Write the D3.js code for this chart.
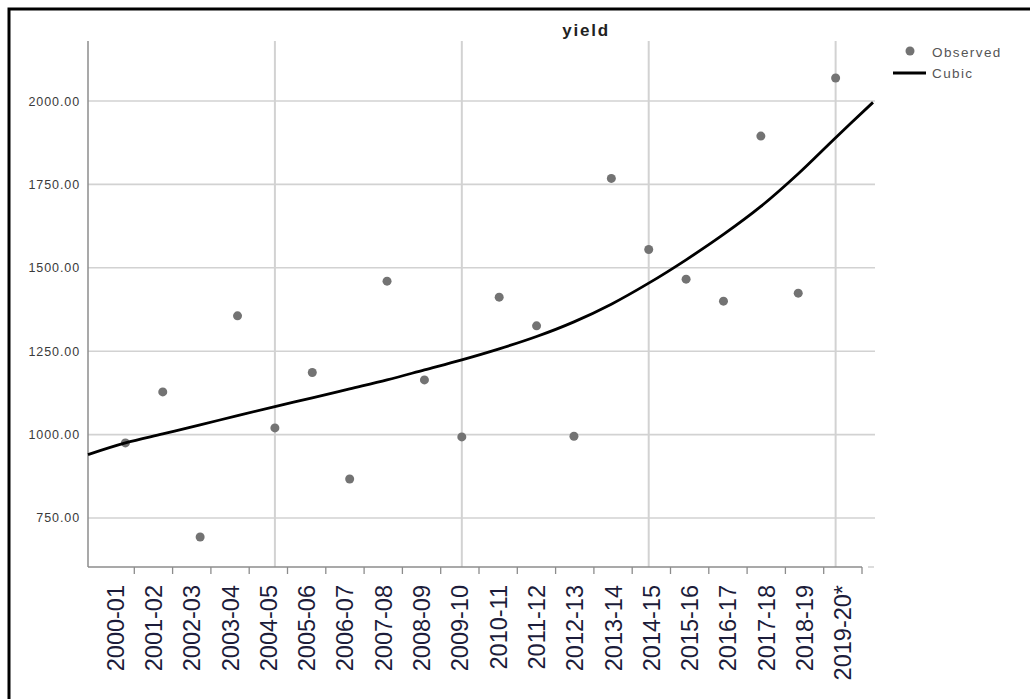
<!DOCTYPE html>
<html>
<head>
<meta charset="utf-8">
<title>yield</title>
<style>
  body { margin: 0; background: #fff; }
  svg { display: block; font-family: "Liberation Sans", Arial, sans-serif; }
  .grid line { stroke: #d2d2d2; }
  .yax text { fill: #3a3a3a; font-size: 12.5px; letter-spacing: 0.9px; }
  .xax text { fill: #1c1c3a; font-size: 23.5px; }
  .xax line { stroke: #8c8c8c; stroke-width: 1.3; }
</style>
</head>
<body>
<svg width="1030" height="699"></svg>
<script src="https://d3js.org/d3.v7.min.js"></script>
<script>

// season labels on the x axis
var seasons = ["2000-01", "2001-02", "2002-03", "2003-04", "2004-05", "2005-06",
  "2006-07", "2007-08", "2008-09", "2009-10", "2010-11", "2011-12", "2012-13",
  "2013-14", "2014-15", "2015-16", "2016-17", "2017-18", "2018-19", "2019-20*"];

// observed yield, sequence 1..20
var observed = [975, 1128, 693, 1356, 1020, 1186, 867, 1460, 1164, 993,
  1412, 1326, 995, 1768, 1555, 1466, 1400, 1895, 1424, 2069];

// cubic fit at sequence 0..21
var cubic = [940, 975, 1002, 1029, 1057, 1084, 1110, 1137, 1164, 1194, 1224,
  1257, 1294, 1338, 1391, 1454, 1524, 1600, 1684, 1782, 1890, 1996];

var yTicks = [750, 1000, 1250, 1500, 1750, 2000];
var xGrid = [5, 10, 15, 20];

var svg = d3.select("svg");

var pLeft = 88, pRight = 875, pTop = 41, pBottom = 567;

var x = d3.scaleLinear().domain([0, 21]).range([pLeft, 873]);
var y = d3.scaleLinear().domain([603, 2180]).range([pBottom, pTop]);
var xb = d3.scaleBand().domain(seasons).range([96, 862]);

// outer frame
svg.append("rect")
    .attr("x", 9).attr("y", 9)
    .attr("width", 1040).attr("height", 720)
    .attr("fill", "none")
    .attr("stroke", "#000")
    .attr("stroke-width", 3);

// title
svg.append("text")
    .attr("x", 586).attr("y", 36)
    .attr("text-anchor", "middle")
    .attr("font-size", 17)
    .attr("font-weight", "bold")
    .attr("letter-spacing", 1.8)
    .attr("fill", "#222")
    .text("yield");

// grid
var grid = svg.append("g").attr("class", "grid");
grid.selectAll(".h")
  .data(yTicks)
  .enter().append("line")
    .attr("x1", pLeft).attr("x2", pRight)
    .attr("y1", function(d) { return y(d); })
    .attr("y2", function(d) { return y(d); })
    .attr("stroke-width", 1.6);
grid.selectAll(".v")
  .data(xGrid)
  .enter().append("line")
    .attr("x1", function(d) { return x(d); })
    .attr("x2", function(d) { return x(d); })
    .attr("y1", pTop).attr("y2", pBottom)
    .attr("stroke-width", 2);

// y axis
var yAxis = svg.append("g")
    .attr("class", "yax")
    .attr("transform", "translate(" + pLeft + ",0)")
    .call(d3.axisLeft(y).tickValues(yTicks).tickFormat(d3.format(".2f")).tickSize(0).tickPadding(8));
yAxis.select(".domain").remove();
yAxis.selectAll("text").attr("font-family", null).attr("font-size", null);

svg.append("line")
    .attr("x1", pLeft).attr("x2", pLeft)
    .attr("y1", pTop).attr("y2", pBottom)
    .attr("stroke", "#8c8c8c").attr("stroke-width", 1.5);

// x axis with ticks between categories
var bw = xb.bandwidth();
var xAxis = svg.append("g")
    .attr("class", "xax")
    .attr("transform", "translate(0," + pBottom + ")")
    .call(d3.axisBottom(xb).tickSize(7).tickSizeOuter(0));
xAxis.select(".domain").remove();
xAxis.selectAll(".tick line")
    .attr("x1", bw / 2).attr("x2", bw / 2);
xAxis.selectAll(".tick text")
    .attr("font-family", null).attr("font-size", null)
    .attr("transform", "rotate(-90)")
    .attr("x", -18).attr("y", 0).attr("dy", "0.36em")
    .attr("text-anchor", "end");

svg.append("line")
    .attr("x1", pLeft).attr("x2", 862)
    .attr("y1", pBottom).attr("y2", pBottom)
    .attr("stroke", "#8c8c8c").attr("stroke-width", 1.5);
svg.append("line")
    .attr("x1", 868).attr("x2", 874)
    .attr("y1", pBottom).attr("y2", pBottom)
    .attr("stroke", "#d0d0d0").attr("stroke-width", 1.5);

// observed points
svg.append("g")
  .selectAll("circle")
  .data(observed)
  .enter().append("circle")
    .attr("cx", function(d, i) { return x(i + 1); })
    .attr("cy", function(d) { return y(d); })
    .attr("r", 4.5)
    .attr("fill", "#737373");

// cubic line
var line = d3.line()
    .x(function(d, i) { return x(i); })
    .y(function(d) { return y(d); })
    .curve(d3.curveCatmullRom);

svg.append("path")
    .datum(cubic)
    .attr("d", line)
    .attr("fill", "none")
    .attr("stroke", "#000")
    .attr("stroke-width", 2.8);

// legend
var legend = svg.append("g").attr("font-size", 13.5).attr("fill", "#555").attr("letter-spacing", 1.4);
legend.append("circle")
    .attr("cx", 910).attr("cy", 51).attr("r", 4.5).attr("fill", "#737373");
legend.append("text")
    .attr("x", 932).attr("y", 57).text("Observed");
legend.append("line")
    .attr("x1", 893).attr("x2", 926)
    .attr("y1", 73).attr("y2", 73)
    .attr("stroke", "#000").attr("stroke-width", 2.8);
legend.append("text")
    .attr("x", 932).attr("y", 78).text("Cubic");

</script>
</body>
</html>
